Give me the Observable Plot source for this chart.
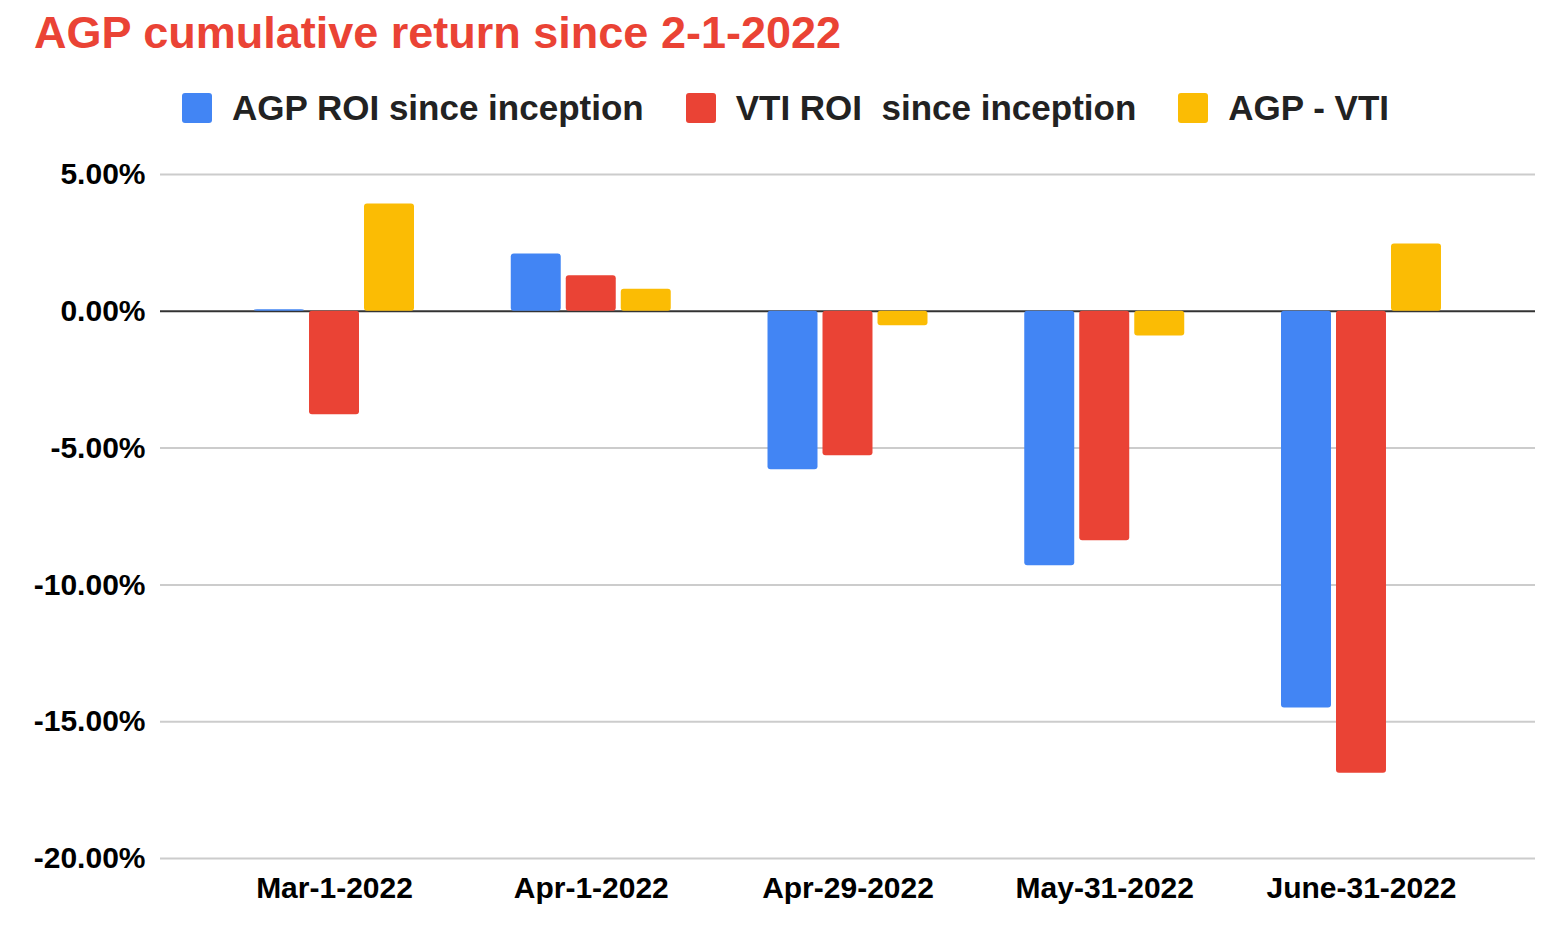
<!DOCTYPE html>
<html>
<head>
<meta charset="utf-8">
<script src="https://cdn.jsdelivr.net/npm/d3@7"></script>
<script src="https://cdn.jsdelivr.net/npm/@observablehq/plot@0.6"></script>
<style>
  body { margin: 0; background: #fff; }
  #wrap { position: relative; width: 1553px; height: 926px; overflow: hidden; background: #fff;
          font-family: 'Liberation Sans', Arial, sans-serif; }
  #title { position: absolute; left: 34px; top: 10px; font-size: 45px; line-height: 45px;
           font-weight: bold; color: #ea4335; white-space: nowrap; }
  #legend { position: absolute; left: 182px; top: 90px; display: flex; align-items: center;
            font-size: 35px; line-height: 35px; font-weight: bold; color: #222; white-space: pre; }
  .item { display: flex; align-items: center; margin-right: 42px; }
  .sw { width: 30px; height: 30px; border-radius: 3px; margin-right: 20px; display: inline-block; }
  #chart { position: absolute; left: 0; top: 140px; }
</style>
</head>
<body>
<div id="wrap">
  <div id="title">AGP cumulative return since 2-1-2022</div>
  <div id="legend"></div>
  <div id="chart"></div>
</div>
<script>
const categories = ["Mar-1-2022", "Apr-1-2022", "Apr-29-2022", "May-31-2022", "June-31-2022"];
const seriesNames = ["AGP ROI since inception", "VTI ROI  since inception", "AGP - VTI"];
const seriesColors = ["#4285f4", "#ea4335", "#fbbc04"];
const agpRoi = [0.06, 2.09, -5.79, -9.30, -14.50];
const vtiRoi = [-3.78, 1.30, -5.28, -8.39, -16.88];
const agpMinusVti = [3.92, 0.81, -0.53, -0.90, 2.46];
const yTicks = [5, 0, -5, -10, -15, -20];

const seriesValues = [agpRoi, vtiRoi, agpMinusVti];
const data = categories.flatMap((c, i) =>
  seriesNames.map((s, j) => ({category: c, series: s, value: seriesValues[j][i]})));

// legend
const legend = document.getElementById("legend");
seriesNames.forEach((s, j) => {
  const it = document.createElement("div");
  it.className = "item";
  const sw = document.createElement("span");
  sw.className = "sw";
  sw.style.background = seriesColors[j];
  const tx = document.createElement("span");
  tx.textContent = s;
  it.appendChild(sw);
  it.appendChild(tx);
  legend.appendChild(it);
});

const offsets = [-55, 0, 55];

const chart = Plot.plot({
  width: 1553,
  height: 786,
  marginTop: 34,
  marginBottom: 68,
  marginLeft: 160,
  marginRight: 18,
  style: {
    fontFamily: "'Liberation Sans', Arial, sans-serif",
    fontSize: "30px",
    fontWeight: "bold",
    color: "#000",
    background: "white",
    overflow: "visible"
  },
  x: {
    domain: categories,
    paddingInner: 0.8053,
    paddingOuter: 0.5804,
    round: false,
    tickSize: 0,
    tickPadding: 18,
    label: null
  },
  y: {
    domain: [-20, 5],
    ticks: yTicks,
    tickFormat: d => d.toFixed(2) + "%",
    tickSize: 0,
    tickPadding: 15,
    label: null
  },
  color: {domain: seriesNames, range: seriesColors},
  marks: [
    Plot.ruleY(yTicks.filter(d => d !== 0), {stroke: "#cccccc", strokeWidth: 2}),
    Plot.ruleY([0], {stroke: "#333333", strokeWidth: 2}),
    ...seriesNames.map((s, j) =>
      Plot.barY(data.filter(d => d.series === s), {
        x: "category", y: "value", fill: "series", dx: offsets[j], rx: 3
      }))
  ]
});
document.getElementById("chart").appendChild(chart);
</script>
</body>
</html>
